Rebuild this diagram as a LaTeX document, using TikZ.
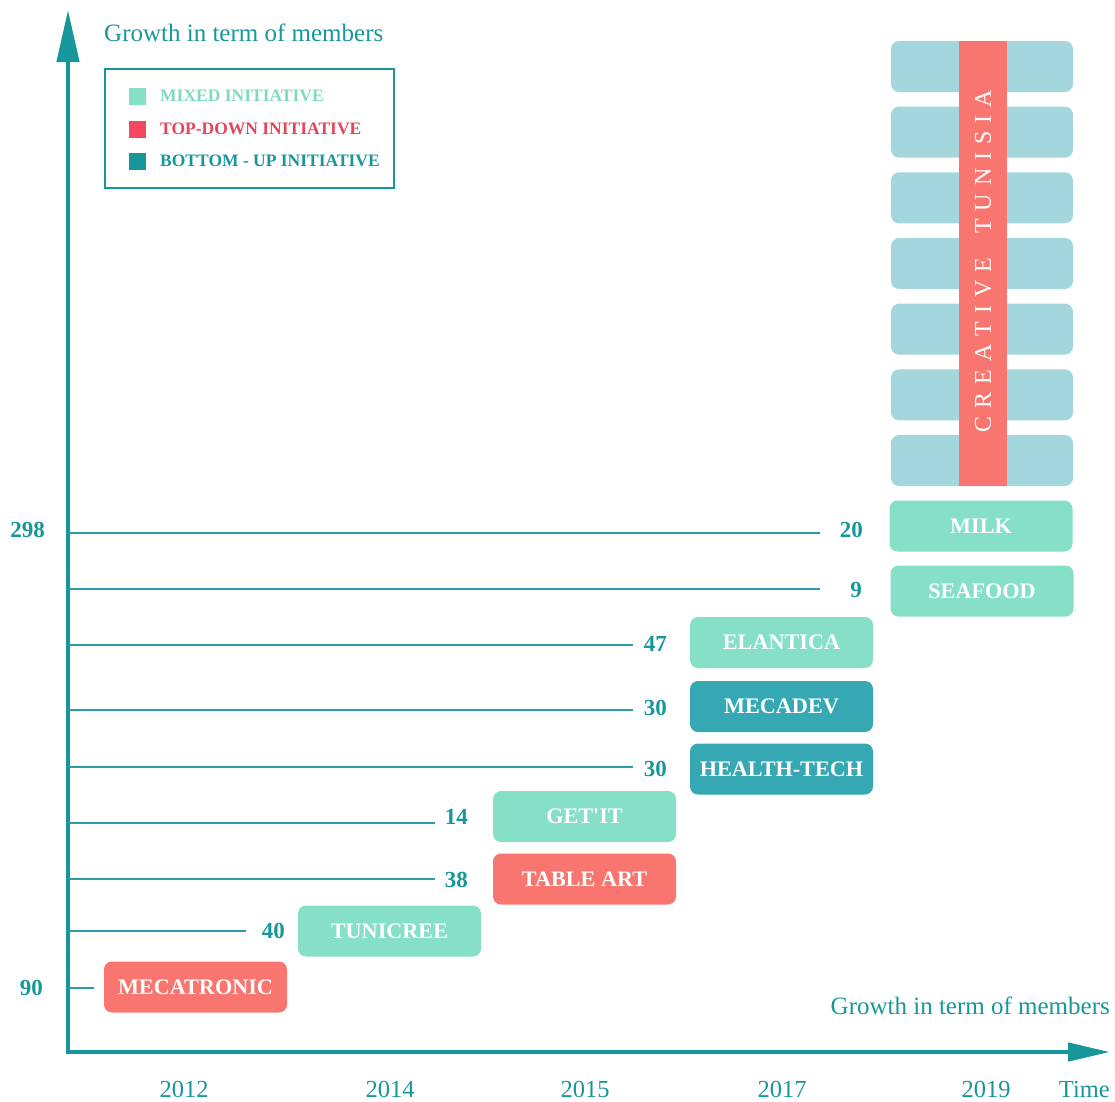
\documentclass[tikz,border=0pt]{standalone}
\usepackage{fontspec}
\setmainfont{Liberation Serif}
\usetikzlibrary{arrows.meta}
\definecolor{axisteal}{HTML}{17979B}
\definecolor{lineteal}{HTML}{2B9BA5}
\definecolor{mint}{HTML}{86E0C8}
\definecolor{salmon}{HTML}{F8766F}
\definecolor{bup}{HTML}{35A8B4}
\definecolor{lightblue}{HTML}{A4D7DD}
\definecolor{legred}{HTML}{F4485E}
\definecolor{legredtext}{HTML}{E5455B}
\definecolor{legminttext}{HTML}{7ED9C1}
\newcommand\lsp{\hspace{8pt}}
\begin{document}
\begin{tikzpicture}[x=1pt,y=-1pt,
  box/.style={rounded corners=8pt, minimum width=183pt, minimum height=51pt, inner sep=0pt, text=white, font=\fontsize{22.2}{24}\selectfont\bfseries},
  mixed/.style={box, fill=mint},
  topdown/.style={box, fill=salmon},
  bottomup/.style={box, fill=bup},
  num/.style={text=axisteal, font=\fontsize{23}{25}\selectfont\bfseries, inner sep=0pt, anchor=east},
  year/.style={text=axisteal, font=\fontsize{24.5}{26}\selectfont, inner sep=0pt, anchor=base},
  level/.style={draw=lineteal, line width=1.6pt},
  legsq/.style={minimum size=17pt, inner sep=0pt},
  legtext/.style={anchor=west, inner sep=0pt, font=\fontsize{17.5}{19}\selectfont\bfseries},
  ctblock/.style={fill=lightblue, rounded corners=8pt, minimum width=182pt, minimum height=51pt, inner sep=0pt}]
\useasboundingbox (0,0) rectangle (1115,1101);

% axes
\coordinate (O) at (68,1052);
\coordinate (ytop) at (68,10);
\coordinate (xend) at (1110,1052);
\draw[axisteal, line width=4.5pt, {Triangle[length=52pt,width=22pt]}-{Triangle[length=42pt,width=18pt]}] (ytop) -- (O) -- (xend);

% axis titles
\node[anchor=base west, inner sep=0pt, text=axisteal, font=\fontsize{25}{27}\selectfont] (ytitle) at (104,41) {Growth in term of members};
\node[anchor=base east, inner sep=0pt, text=axisteal, font=\fontsize{25}{27}\selectfont] (xtitle) at (1110,1014) {Growth in term of members};

% legend
\node[draw=axisteal, line width=2pt, minimum width=289pt, minimum height=119pt, inner sep=0pt] (legend) at (249.5,128.5) {};
\node[legsq, fill=mint] (sq1) at (137.5,96) {};
\node[legsq, fill=legred] (sq2) at (137.5,129) {};
\node[legsq, fill=axisteal] (sq3) at (137.5,161) {};
\node[legtext, text=legminttext] (lt1) at (160,96) {MIXED INITIATIVE};
\node[legtext, text=legredtext] (lt2) at (160,129) {TOP-DOWN INITIATIVE};
\node[legtext, text=axisteal] (lt3) at (160,161) {BOTTOM - UP INITIATIVE};

% creative tunisia block
\foreach \i in {0,...,6} {
  \node[ctblock] (ct\i) at (982, 66.5+65.67*\i) {};
}
\fill[salmon] (959,41) rectangle (1007,486);
\node[rotate=90, text=white, inner sep=0pt, font=\fontsize{24}{26}\selectfont] (ctname) at (983,261)
  {C\lsp R\lsp E\lsp A\lsp T\lsp I\lsp V\lsp E\hspace{24pt}T\lsp U\lsp N\lsp I\lsp S\lsp I\lsp A};

% boxes
\node[mixed] (milk) at (981,526) {MILK};
\node[mixed] (seafood) at (982,591) {SEAFOOD};
\node[mixed] (elantica) at (781.5,642.5) {ELANTICA};
\node[bottomup] (mecadev) at (781.5,706.5) {MECADEV};
\node[bottomup] (health) at (781.5,769) {HEALTH-TECH};
\node[mixed] (getit) at (584.5,816.5) {GET\textquotesingle IT};
\node[topdown] (tableart) at (584.5,879) {TABLE ART};
\node[mixed] (tunicree) at (389.5,931) {TUNICREE};
\node[topdown] (mecatronic) at (195.5,987) {MECATRONIC};

% numbers
\node[num] (n298) at (45,530) {298};
\node[num] (n90) at (43,988) {90};
\node[num] (nmilk) at (863,530) {20};
\node[num] (nsea) at (862,590) {9};
\node[num] (nela) at (667,644) {47};
\node[num] (nmeca) at (667,708) {30};
\node[num] (nhealth) at (667,769) {30};
\node[num] (ngetit) at (468,817) {14};
\node[num] (ntable) at (468,880) {38};
\node[num] (ntuni) at (285,931) {40};

% level lines
\foreach \nm/\y/\xe in {milk/533/820, sea/589/820, ela/645/633, meca/710/633, health/767/633, getit/823/435, table/879/435, tuni/931/246, mecatr/988/94} {
  \coordinate (s\nm) at (68,\y);
  \coordinate (e\nm) at (\xe,\y);
  \draw[level] (s\nm) -- (e\nm);
}

% years
\node[year] (y2012) at (184,1097) {2012};
\node[year] (y2014) at (390,1097) {2014};
\node[year] (y2015) at (585,1097) {2015};
\node[year] (y2017) at (782,1097) {2017};
\node[year] (y2019) at (986,1097) {2019};
\node[year, anchor=base east] (ytime) at (1110,1097) {Time};
\end{tikzpicture}
\end{document}
